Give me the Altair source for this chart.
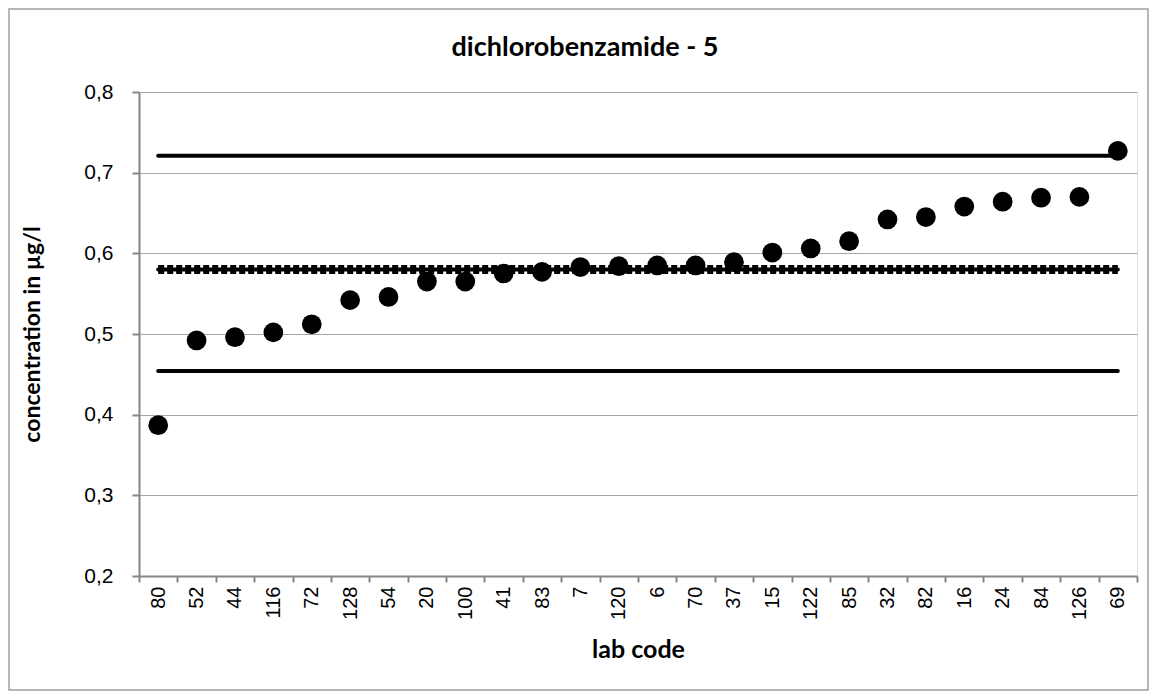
import altair as alt
import pandas as pd

labs = ["80", "52", "44", "116", "72", "128", "54", "20", "100", "41", "83", "7", "120",
        "6", "70", "37", "15", "122", "85", "32", "82", "16", "24", "84", "126", "69"]
values = [0.387, 0.492, 0.496, 0.502, 0.512, 0.542, 0.546, 0.565, 0.565, 0.575, 0.577, 0.583,
          0.584, 0.585, 0.585, 0.589, 0.601, 0.606, 0.615, 0.642, 0.645, 0.658, 0.664, 0.669,
          0.670, 0.727]
upper_limit = 0.721
assigned = 0.580
lower_limit = 0.454

W, H = 998, 484
PAD = {"left": 131, "top": 84, "right": 12, "bottom": 115}

pts = pd.DataFrame({"lab": labs, "value": values})
ends = [labs[0], labs[-1]]
solid = pd.DataFrame({
    "lab": ends * 3,
    "value": [upper_limit] * 2 + [assigned] * 2 + [lower_limit] * 2,
    "line": ["upper"] * 2 + ["assigned"] * 2 + ["lower"] * 2,
})
dashed = pd.DataFrame({"lab": ends, "value": [assigned] * 2})

xenc = alt.X("lab:N", sort=labs, title="lab code",
             scale=alt.Scale(paddingInner=0, paddingOuter=0),
             axis=alt.Axis(labelAngle=-90, tickBand="extent", grid=False,
                           labelFont="Liberation Sans", labelFontSize=20,
                           labelColor="#000000", labelPadding=4,
                           tickSize=6, tickColor="#868686", tickWidth=2,
                           domainColor="#868686", domainWidth=2,
                           titleFont="Lato", titleFontSize=25, titleFontWeight="bold",
                           titleColor="#000000", titlePadding=18))
yenc = alt.Y("value:Q", title="concentration in µg/l",
             scale=alt.Scale(domain=[0.2, 0.8], nice=False, zero=False),
             axis=alt.Axis(values=[0.2, 0.3, 0.4, 0.5, 0.6, 0.7, 0.8],
                           labelExpr="replace(format(datum.value, '.1f'), '.', ',')",
                           labelFont="Liberation Sans", labelFontSize=21,
                           labelColor="#000000", labelPadding=19,
                           tickSize=7, tickColor="#868686", tickWidth=2,
                           domainColor="#868686", domainWidth=2,
                           gridColor="#a6a6a6", gridWidth=1,
                           titleFont="Lato", titleFontSize=23, titleFontWeight="bold",
                           titleColor="#000000", titlePadding=39))

dash_layer = alt.Chart(dashed).mark_line(color="#000000", strokeWidth=9,
                                         strokeDash=[6, 3]).encode(x=xenc, y=yenc)
line_layer = alt.Chart(solid).mark_line(color="#000000", strokeWidth=4,
                                        strokeCap="round").encode(
    x=alt.X("lab:N", sort=labs), y="value:Q", detail="line:N")
point_layer = alt.Chart(pts).mark_circle(color="#000000", opacity=1, size=390).encode(
    x=alt.X("lab:N", sort=labs), y="value:Q")
border = alt.Chart(pd.DataFrame({"a": [0]})).mark_rect(
    fillOpacity=0, stroke="#a0a0a0", strokeWidth=1.5).encode(
    x=alt.value(-PAD["left"] + 1), x2=alt.value(W + PAD["right"] - 1),
    y=alt.value(-PAD["top"] + 1), y2=alt.value(H + PAD["bottom"] - 1))

chart = alt.layer(dash_layer, line_layer, point_layer, border).properties(
    width=W, height=H, padding=PAD, autosize=alt.AutoSizeParams(type="none"),
    title=alt.TitleParams("dichlorobenzamide - 5", font="Lato", fontSize=27,
                          fontWeight="bold", color="#000000", frame="group",
                          anchor="middle", dx=-53, offset=-54),
).configure_view(stroke="#868686", strokeWidth=2).configure(background="#ffffff")

chart.save("out.html", embed_options={"renderer": "svg", "actions": False})
